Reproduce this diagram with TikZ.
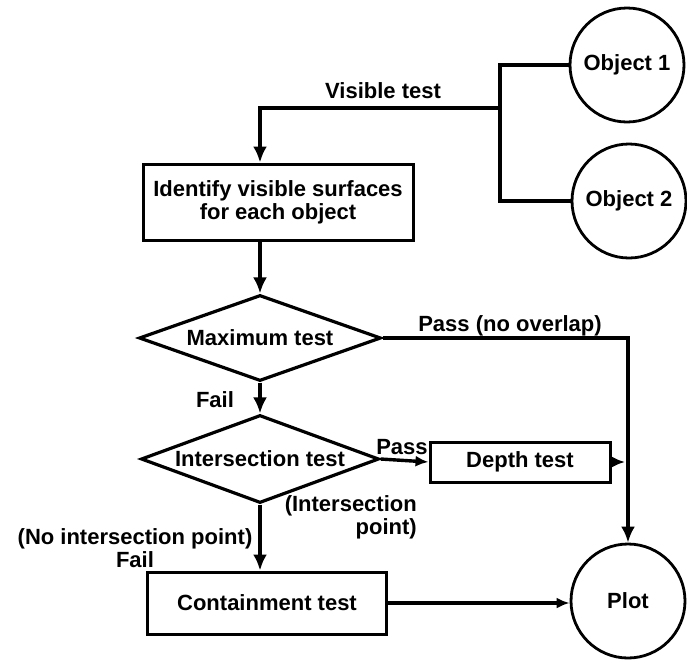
\documentclass[tikz,border=0pt]{standalone}
\usepackage{fontspec}
\setmainfont{Liberation Sans}
\usetikzlibrary{shapes.geometric,arrows.meta}
\begin{document}
\begin{tikzpicture}[x=1pt,y=-1pt,
  font=\fontsize{22}{23}\selectfont\bfseries,
  every node/.style={inner sep=0pt},
  line/.style={line width=3.4pt},
  arr/.style={line, -{Latex[length=16pt,width=14pt]}},
  sarr/.style={line, -{Latex[length=13pt,width=11pt]}},
  obj/.style={circle, draw, line width=2.8pt, minimum size=114pt},
  box/.style={rectangle, draw, line width=3pt, align=center},
  test/.style={diamond, draw, line width=3.2pt, aspect=2.8},
  lbl/.style={align=center}]
\useasboundingbox (0,0) rectangle (687,659);

% objects and result
\node[obj] (obj1) at (627,65) {Object 1};
\node[obj] (obj2) at (629,201) {Object 2};
\node[obj] (plot) at (628,601) {Plot};

% process boxes
\node[box, minimum width=270pt, minimum height=76pt] (ident) at (278,202)
  {Identify visible surfaces\\for each object};
\node[box, minimum width=180pt, minimum height=40pt] (depth) at (520,462) {Depth test};
\node[box, minimum width=239pt, minimum height=62pt] (contain) at (267,603) {Containment test};

% decisions
\node[test, minimum width=242pt, minimum height=86pt] (maxd) at (260,338) {Maximum test};
\node[test, minimum width=238pt, minimum height=88pt] (intd) at (260,459) {Intersection test};

% bracket joining the two objects
\coordinate (bt) at (500,65);
\coordinate (bb) at (500,201);
\coordinate (br) at (500,108);
\draw[line] (obj1.west) -- (bt) -- (bb) -- (obj2.west);

% flow
\draw[arr] (br) -| (maxd.north |- ident.north);
\node at (383,91) {Visible test};
\draw[arr] (maxd.north |- ident.south) -- (maxd.north);
\draw[arr] (maxd.south) -- (intd.north);
\node at (215,400) {Fail};
\draw[arr] (maxd.east) -| (plot.north);
\node at (510,326) {Pass (no overlap)};
\draw[sarr] (intd.east) -- (depth.west);
\node at (402,447) {Pass};
\draw[sarr, shorten >=3pt] (depth.east) -- (depth.east -| plot.north);
\draw[arr] (intd.south) -- (intd.south |- contain.north);
\node[lbl] at (135,548) {(No intersection point)\\Fail};
\node[align=right, anchor=east] at (417,517) {(Intersection\\point)};
\draw[sarr] (contain.east) -- (contain.east -| plot.west);
\end{tikzpicture}
\end{document}
